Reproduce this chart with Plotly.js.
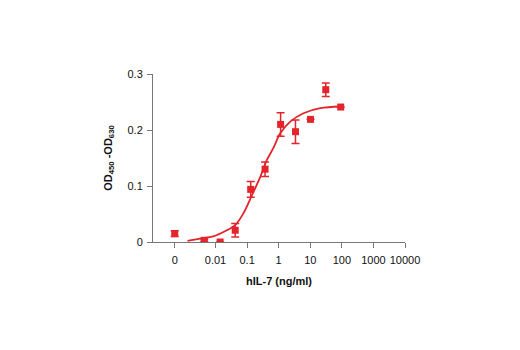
<!DOCTYPE html>
<html>
<head>
<meta charset="utf-8">
<script src="https://cdn.plot.ly/plotly-3.0.1.min.js"></script>
<style>html,body{margin:0;padding:0;background:#fff;}#chart{width:520px;height:350px;}</style>
</head>
<body>
<div id="chart"></div>
<script>
// concentration (ng/ml); the "0" sample is placed at the "0" tick position
var zeroPos = 0.00051;
var conc = [zeroPos, 0.0044, 0.014, 0.042, 0.13, 0.37, 1.15, 3.4, 10.2, 31, 92];
var od = [0.015, 0.003, 0.0, 0.021, 0.094, 0.13, 0.21, 0.197, 0.219, 0.272, 0.241];
var odErr = [0.005, 0.002, 0.0, 0.012, 0.014, 0.013, 0.021, 0.021, 0.0, 0.012, 0.0];

// fitted curve
var fitX = [0.0013, 0.0032, 0.0085, 0.023, 0.042, 0.076, 0.141, 0.259, 0.42, 0.68, 1.12, 2.32, 6.1, 20.8, 89];
var fitY = [0.002, 0.006, 0.010, 0.021, 0.030, 0.051, 0.083, 0.116, 0.146, 0.168, 0.194, 0.215, 0.230, 0.239, 0.242];

var tickVals = [zeroPos, 0.01, 0.1, 1, 10, 100, 1000, 10000];
var tickText = ["0", "0.01", "0.1", "1", "10", "100", "1000", "10000"];

var red = "#e3242b";
var traces = [
  {x: fitX, y: fitY, mode: "lines", line: {color: red, width: 1.8, shape: "spline"}, hoverinfo: "none"},
  {x: conc, y: od, mode: "markers", marker: {symbol: "square", size: 7, color: red},
   error_y: {type: "data", array: odErr, visible: true, color: red, thickness: 1.5, width: 4}}
];
var layout = {
  width: 520, height: 350,
  margin: {l: 153, r: 115, t: 74, b: 108},
  showlegend: false,
  paper_bgcolor: "#fff", plot_bgcolor: "#fff",
  font: {family: "Liberation Sans, Arial, sans-serif", color: "#111", size: 11},
  xaxis: {
    type: "log", range: [-3.98, 4.0],
    tickvals: tickVals, ticktext: tickText,
    showgrid: false, zeroline: false, showline: true, linecolor: "#777", linewidth: 1,
    ticks: "outside", ticklen: 5, tickcolor: "#777",
    ticklabelstandoff: 3,
    tickfont: {size: 11},
    title: {text: "<b>hIL-7 (ng/ml)</b>", font: {size: 11}, standoff: 12}
  },
  yaxis: {
    range: [0, 0.3],
    tickvals: [0, 0.1, 0.2, 0.3], ticktext: ["0", "0.1", "0.2", "0.3"],
    showgrid: false, zeroline: false, showline: true, linecolor: "#777", linewidth: 1,
    ticks: "outside", ticklen: 5, tickcolor: "#777",
    ticklabelstandoff: 2,
    tickfont: {size: 11},
    title: {text: "<b>OD<sub>450</sub> -OD<sub>630</sub></b>", font: {size: 11}, standoff: 12}
  }
};
Plotly.newPlot("chart", traces, layout, {displayModeBar: false, staticPlot: true});
</script>
</body>
</html>
